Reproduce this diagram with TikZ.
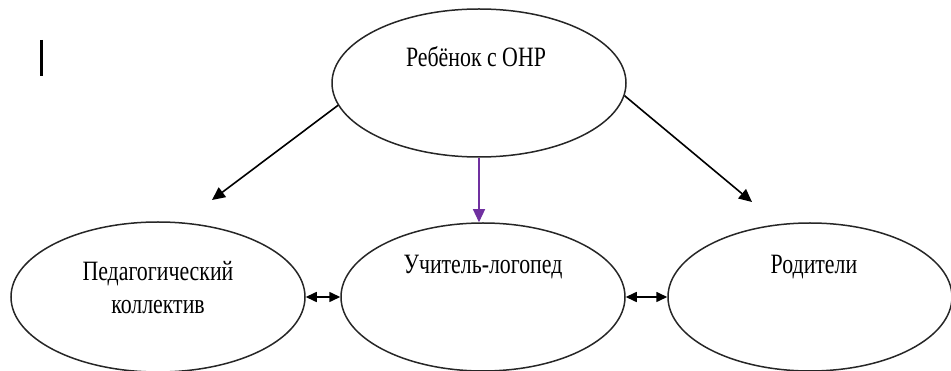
\documentclass[tikz,border=0pt]{standalone}
\usepackage{fontspec}
\setmainfont{Liberation Serif}[FakeStretch=0.78]
\usetikzlibrary{shapes.geometric,arrows.meta}
\definecolor{wordpurple}{RGB}{112,48,160}
\begin{document}
\begin{tikzpicture}[x=1pt,y=-1pt,
  oval/.style={draw=black!85,line width=1.5pt,ellipse,inner sep=0pt},
  lbl/.style={font=\fontsize{28}{33}\selectfont,align=center,inner sep=0pt},
  arr/.style={line width=1.6pt,-{Triangle[length=13pt,width=12pt]}},
  darr/.style={line width=1.6pt,{Triangle[length=11pt,width=10pt]}-{Triangle[length=11pt,width=10pt]}}]
\useasboundingbox (0,0) rectangle (951,371);
\node[oval,minimum width=294pt,minimum height=148pt] (child) at (479,83) {};
\node[oval,minimum width=294pt,minimum height=150pt] (ped) at (158,297) {};
\node[oval,minimum width=284pt,minimum height=148pt] (log) at (483,297) {};
\node[oval,minimum width=284pt,minimum height=148pt] (par) at (810,297) {};
\node[lbl] (tchild) at (476,57) {Ребёнок с ОНР};
\node[lbl] (tped) at (158,288) {Педагогический\\коллектив};
\node[lbl] (tlog) at (483,267) {Учитель-логопед};
\node[lbl] (tpar) at (814,267) {Родители};
\coordinate (lend) at (212,200);
\coordinate (rend) at (752,202);
\draw[arr] (child.189) -- (lend);
\draw[arr] (child.355) -- (rend);
\draw[arr,line width=1.2pt,draw=wordpurple,fill=wordpurple] (child.south) -- (child.south |- log.north);
\draw[darr] (ped.east) -- (log.west);
\draw[darr] (log.east) -- (par.west);
\draw[line width=3pt] (41,40) -- (41,76);
\end{tikzpicture}
\end{document}
